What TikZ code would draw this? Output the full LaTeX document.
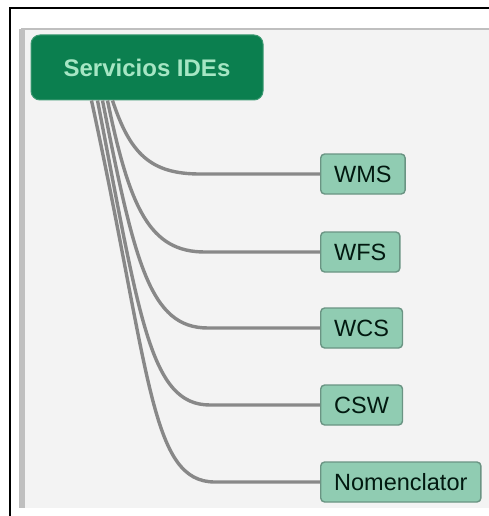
\documentclass[tikz,border=0pt]{standalone}
\usepackage{fontspec}
\setmainfont{Liberation Sans}
\definecolor{idegreen}{HTML}{0B7F4F}
\definecolor{idetext}{HTML}{A6E6C4}
\definecolor{leaffill}{HTML}{90CCB2}
\definecolor{leafline}{HTML}{6A9483}
\definecolor{linkgray}{HTML}{888888}
\definecolor{panelgray}{HTML}{F3F3F3}
\tikzset{
	mainbox/.style={draw=idegreen!80!white, fill=idegreen, rounded corners=9pt, line width=1pt,
		minimum width=232pt, minimum height=65pt, text=idetext,
		font=\fontsize{24}{27}\selectfont\bfseries},
	leafbox/.style={draw=leafline, fill=leaffill, rounded corners=4pt, line width=1.4pt, anchor=west,
		inner xsep=13.5pt, minimum height=40pt, text=black!80!idegreen,
		font=\fontsize{23.5}{26}\selectfont},
	link/.style={draw=linkgray, line width=3.4pt}
}
\begin{document}
\begin{tikzpicture}[x=1pt,y=-1pt]
	\useasboundingbox (0,0) rectangle (489,516);
	% frame and panel
	\fill[panelgray] (22,29) rectangle (489,508);
	\draw[black!25, line width=1.5pt] (21,29) -- (489,29);
	\fill[black!25] (19,29) rectangle (25,508);
	\draw[black, line width=2.5pt] (10,516) -- (10,8) -- (489,8);
	% root
	\node[mainbox] (ide) at (147,67.5) {Servicios IDEs};
	% services
	\foreach \n/\t/\y/\s/\a/\b/\h in {%
		wms/WMS/174/82/130/150/200,%
		wfs/WFS/252/77/130/150/205,%
		wcs/WCS/328/72/135/150/208,%
		csw/CSW/405/67/140/150/210,%
		nom/Nomenclator/482/61/151/150/215%
	}{
		\node[leafbox] (\n) at (320,\y) {\t};
		\draw[link] ([xshift=\s pt]ide.south west) .. controls (\a,{100+0.72*(\y-100)}) and (\b,\y) .. (\h,\y) -- (\n.west);
	}
\end{tikzpicture}
\end{document}
